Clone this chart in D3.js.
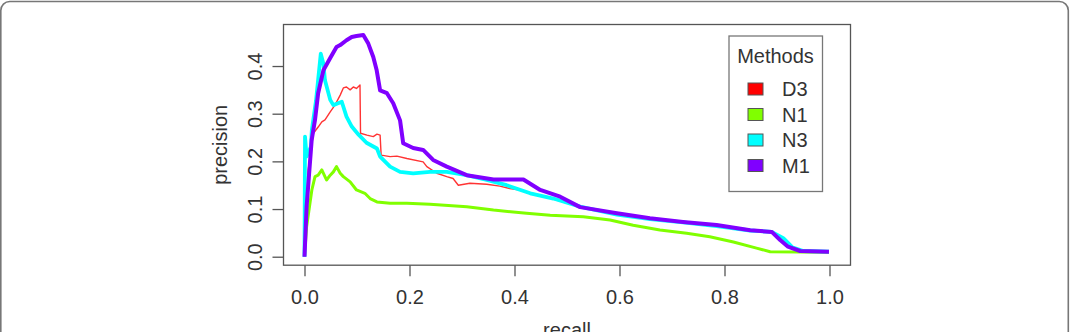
<!DOCTYPE html>
<html>
<head>
<meta charset="utf-8">
<script src="https://cdn.jsdelivr.net/npm/d3@7"></script>
<style>
  body { margin: 0; background: #fff; }
  svg text { font-family: "Liberation Sans", Arial, sans-serif; fill: #333; }
</style>
</head>
<body>
<div id="chart"></div>
<script>
(function () {

/* data: [recall, precision] */
  var methods = ["D3", "N1", "N3", "M1"];
  var colors = ["#ff0000", "#80ff00", "#00ffff", "#8000ff"];
  var xTicks = [0, 0.2, 0.4, 0.6, 0.8, 1.0];
  var yTicks = [0, 0.1, 0.2, 0.3, 0.4];

  var seriesD3 = [
    [0, 0], [0.007, 0.182], [0.017, 0.259], [0.026, 0.272], [0.033, 0.283], [0.039, 0.287],
    [0.049, 0.304], [0.058, 0.318], [0.068, 0.339], [0.074, 0.354], [0.080, 0.356],
    [0.087, 0.350], [0.093, 0.356], [0.099, 0.353], [0.1057, 0.360], [0.1067, 0.259],
    [0.119, 0.255], [0.131, 0.252], [0.138, 0.257], [0.144, 0.255], [0.146, 0.213],
    [0.163, 0.210], [0.176, 0.211], [0.195, 0.206], [0.226, 0.199], [0.233, 0.189],
    [0.252, 0.175], [0.271, 0.168], [0.283, 0.164], [0.293, 0.150], [0.315, 0.154],
    [0.347, 0.152], [0.372, 0.148], [0.391, 0.143], [0.411, 0.140], [0.430, 0.132],
    [0.474, 0.121], [0.525, 0.104], [0.595, 0.088], [0.658, 0.079], [0.721, 0.071],
    [0.785, 0.064], [0.849, 0.055], [0.890, 0.051], [0.912, 0.038], [0.929, 0.020],
    [0.950, 0.012], [0.999, 0.0105]
  ];

  var seriesN1 = [
    [0, 0], [0.004, 0.063], [0.014, 0.140], [0.020, 0.168], [0.026, 0.171], [0.033, 0.182],
    [0.039, 0.168], [0.042, 0.161], [0.049, 0.171], [0.055, 0.178], [0.061, 0.189],
    [0.068, 0.175], [0.074, 0.168], [0.087, 0.157], [0.099, 0.140], [0.115, 0.133],
    [0.125, 0.122], [0.138, 0.115], [0.163, 0.112], [0.195, 0.112], [0.239, 0.110],
    [0.309, 0.105], [0.360, 0.098], [0.423, 0.091], [0.468, 0.087], [0.531, 0.084],
    [0.582, 0.077], [0.626, 0.066], [0.677, 0.056], [0.728, 0.049], [0.772, 0.042],
    [0.817, 0.031], [0.861, 0.018], [0.887, 0.0105], [0.999, 0.0092]
  ];

  var seriesN3 = [
    [0, 0], [0.001, 0.252], [0.004, 0.21], [0.012, 0.23], [0.014, 0.266], [0.022, 0.328],
    [0.031, 0.426], [0.036, 0.405], [0.039, 0.370], [0.049, 0.329], [0.055, 0.318],
    [0.064, 0.322], [0.071, 0.325], [0.080, 0.294], [0.090, 0.273], [0.103, 0.256],
    [0.118, 0.239], [0.138, 0.227], [0.144, 0.210], [0.163, 0.189], [0.182, 0.178],
    [0.207, 0.175], [0.239, 0.178], [0.271, 0.178], [0.309, 0.171], [0.347, 0.161],
    [0.385, 0.150], [0.430, 0.133], [0.474, 0.122], [0.525, 0.105], [0.595, 0.0885],
    [0.658, 0.079], [0.721, 0.072], [0.785, 0.064], [0.849, 0.055], [0.890, 0.052],
    [0.912, 0.039], [0.929, 0.020], [0.950, 0.012], [0.999, 0.0105]
  ];

  var seriesM1 = [
    [0, 0], [0.004, 0.105], [0.0137, 0.245], [0.020, 0.287], [0.026, 0.343], [0.036, 0.391],
    [0.049, 0.417], [0.061, 0.440], [0.068, 0.444], [0.080, 0.454], [0.090, 0.461],
    [0.099, 0.463], [0.112, 0.465], [0.1215, 0.447], [0.131, 0.419], [0.1375, 0.391],
    [0.144, 0.349], [0.157, 0.343], [0.169, 0.322], [0.182, 0.286], [0.188, 0.238],
    [0.207, 0.228], [0.226, 0.224], [0.245, 0.203], [0.271, 0.189], [0.309, 0.171],
    [0.360, 0.162], [0.417, 0.162], [0.449, 0.140], [0.487, 0.126], [0.525, 0.104],
    [0.595, 0.091], [0.658, 0.0805], [0.721, 0.073], [0.785, 0.0665], [0.849, 0.0556],
    [0.890, 0.052], [0.906, 0.035], [0.921, 0.021], [0.944, 0.012], [0.999, 0.0105]
  ];

  var allSeries = [seriesD3, seriesN1, seriesN3, seriesM1];
  var lineWidths = [1.4, 3, 3.8, 4];

/* preperation */
  var width = 1073,
      height = 332;

  var svg = d3.select('#chart')
    .append("svg")
    .attr('width', width)
    .attr('height', height)

  //outer rounded frame of the figure panel
  svg.append("rect")
    .attr("x", 0.8).attr("y", 1.5)
    .attr("width", 1067.5).attr("height", 360)
    .attr("rx", 9)
    .attr("fill", "none")
    .attr("stroke", "#777")
    .attr("stroke-width", 1.6)

  //scales, R style with 4% padding round the data
  var box = { left: 283.5, right: 850.5, top: 24.5, bottom: 265.2 }
  var x = d3.scaleLinear().domain([-0.04, 1.04]).range([box.left, box.right])
  var y = d3.scaleLinear().domain([-0.0178, 0.4871]).range([box.bottom, box.top])

  //lines, drawn in legend order
  var line = d3.line()
    .x(function (d) { return x(d[0]) })
    .y(function (d) { return y(d[1]) })

  svg.append("g")
    .selectAll("path")
    .data(allSeries)
    .enter().append("path")
    .attr("d", line)
    .attr("fill", "none")
    .attr("stroke", function (d, i) { return colors[i] })
    .attr("stroke-width", function (d, i) { return lineWidths[i] })
    .attr("stroke-opacity", function (d, i) { return i === 0 ? 0.8 : 1 })
    .attr("stroke-linejoin", "round")

  //plot box
  svg.append("rect")
    .attr("x", box.left).attr("y", box.top)
    .attr("width", box.right - box.left)
    .attr("height", box.bottom - box.top)
    .attr("fill", "none")
    .attr("stroke", "#555")
    .attr("stroke-width", 1.3)

  //axes
  var xAxis = svg.append("g")
    .attr("transform", "translate(0," + box.bottom + ")")
    .call(d3.axisBottom(x).tickValues(xTicks).tickSize(11).tickSizeOuter(0)
      .tickFormat(d3.format(".1f")))
  xAxis.select(".domain").remove()
  xAxis.selectAll("line").attr("stroke", "#555").attr("stroke-width", 1.3)
  xAxis.selectAll("text")
    .attr("y", 38.8).attr("dy", 0)
    .attr("font-size", 20)
    .attr("font-family", null)
    .attr("fill", "#333")

  var yAxis = svg.append("g")
    .attr("transform", "translate(" + box.left + ",0)")
    .call(d3.axisLeft(y).tickValues(yTicks).tickSize(11).tickSizeOuter(0)
      .tickFormat(d3.format(".1f")))
  yAxis.select(".domain").remove()
  yAxis.selectAll("line").attr("stroke", "#555").attr("stroke-width", 1.3)
  yAxis.selectAll("text")
    .attr("transform", "rotate(-90)")
    .attr("x", 0).attr("y", -21.5).attr("dy", 0)
    .attr("text-anchor", "middle")
    .attr("font-size", 20)
    .attr("font-family", null)
    .attr("fill", "#333")

  //axis titles
  svg.append("text")
    .attr("transform", "translate(226.5," + ((box.top + box.bottom) / 2) + ") rotate(-90)")
    .attr("text-anchor", "middle")
    .attr("font-size", 20)
    .text("precision")

  svg.append("text")
    .attr("x", (box.left + box.right) / 2)
    .attr("y", 337)
    .attr("text-anchor", "middle")
    .attr("font-size", 20)
    .text("recall")

  /* legend */
  var legend = svg.append("g")

  legend.append("rect")
    .attr("x", 729).attr("y", 36)
    .attr("width", 93.5).attr("height", 155.5)
    .attr("fill", "#fff")
    .attr("stroke", "#777")
    .attr("stroke-width", 1.3)

  legend.append("text")
    .attr("x", 775.5).attr("y", 63)
    .attr("text-anchor", "middle")
    .attr("font-size", 20)
    .text("Methods")

  var items = legend.selectAll(".item")
    .data(methods)
    .enter().append("g")
    .attr("class", "item")
    .attr("transform", function (d, i) { return "translate(0," + (89 + i * 25.5) + ")" })

  items.append("rect")
    .attr("x", 748).attr("y", -6)
    .attr("width", 15).attr("height", 12)
    .attr("fill", function (d, i) { return colors[i] })
    .attr("stroke", "#555")
    .attr("stroke-width", 1)

  items.append("text")
    .attr("x", 782).attr("y", 7)
    .attr("font-size", 20)
    .text(function (d) { return d })

})()
</script>
</body>
</html>
